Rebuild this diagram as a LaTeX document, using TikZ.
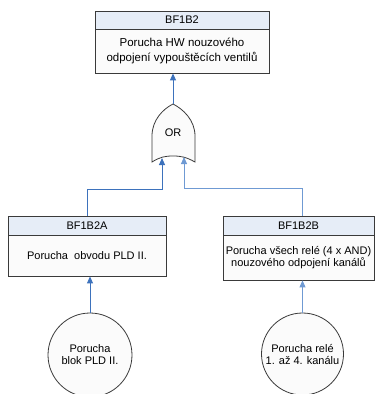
\documentclass[tikz,border=0pt]{standalone}
\usepackage{fontspec}
\setmainfont{Liberation Sans}
\usetikzlibrary{arrows.meta}
\definecolor{headfill}{HTML}{E6EDF7}
\definecolor{bodyfill}{HTML}{FBFBFB}
\definecolor{edge}{HTML}{3A3A3A}
\definecolor{link}{HTML}{3D72BC}
\definecolor{linklight}{HTML}{6F9AD3}
\tikzset{
  headbox/.style={draw=edge, fill=headfill, line width=0.8pt, inner sep=0pt, anchor=center},
  bodybox/.style={draw=edge, fill=bodyfill, line width=0.8pt, inner sep=0pt, align=center, anchor=center},
  event/.style={draw=edge, fill=bodyfill, circle, line width=0.8pt, inner sep=0pt, align=center},
  conn/.style={draw=link, line width=0.9pt, -{Triangle[length=7pt,width=6pt]}},
  connlight/.style={draw=linklight, line width=0.9pt, -{Triangle[length=7pt,width=6pt]}},
  lbl/.style={font=\fontsize{11}{12}\selectfont},
  toplbl/.style={font=\fontsize{11.5}{15}\selectfont}
}
\begin{document}
\begin{tikzpicture}[x=1pt, y=-1pt]
\useasboundingbox (0,0) rectangle (375,394);

% top event
\node[headbox, minimum width=174pt, minimum height=18pt, lbl] (tH) at (182,20) {BF1B2};
\node[bodybox, minimum width=174pt, minimum height=44pt, toplbl] (tB) at (182,51)
  {Porucha HW nouzového\\odpojení vypouštěcích ventilů};

% intermediate events
\node[headbox, minimum width=158pt, minimum height=19pt, lbl] (aH) at (87,225.5) {BF1B2A};
\node[bodybox, minimum width=158pt, minimum height=41pt, lbl] (aB) at (87,255.5)
  {Porucha\ \ obvodu PLD II.};
\node[headbox, minimum width=151pt, minimum height=19pt, lbl] (bH) at (298.5,225.5) {BF1B2B};
\node[bodybox, minimum width=151pt, minimum height=45pt, lbl] (bB) at (298.5,257.5)
  {Porucha všech relé (4 x AND)\\nouzového odpojení kanálů};

% basic events
\node[event, minimum size=84pt, lbl] (cA) at (90,355) {Porucha\\blok PLD II.};
\node[event, minimum size=82pt, lbl] (cB) at (302.5,354) {Porucha relé\\1. až 4. kanálu};

% OR gate
\draw[draw=edge, fill=bodyfill, line width=0.8pt]
  (152,162) -- (152,136)
  .. controls (152,120) and (163,109) .. (173,104)
  .. controls (183,109) and (195,120) .. (195,136)
  -- (195,162)
  .. controls (186,157) and (181,156) .. (173,156)
  .. controls (165,156) and (160,157) .. (152,162) -- cycle;
\node[lbl] (or) at (173,133) {OR};
\coordinate (gTop) at (173,104);
\coordinate (gInL) at (162,158);
\coordinate (gInR) at (184,157);
\coordinate (jL) at (162,189);
\coordinate (jR) at (184,188);

% connectors
\draw[conn] (gTop) -- (gTop |- tB.south);
\draw[conn] (aH.north) |- (jL) -- (gInL);
\draw[connlight] (bH.north -| cB.north) |- (jR) -- (gInR);
\draw[conn] (cA.north) -- (cA.north |- aB.south);
\draw[connlight] (cB.north) -- (cB.north |- bB.south);
\end{tikzpicture}
\end{document}
